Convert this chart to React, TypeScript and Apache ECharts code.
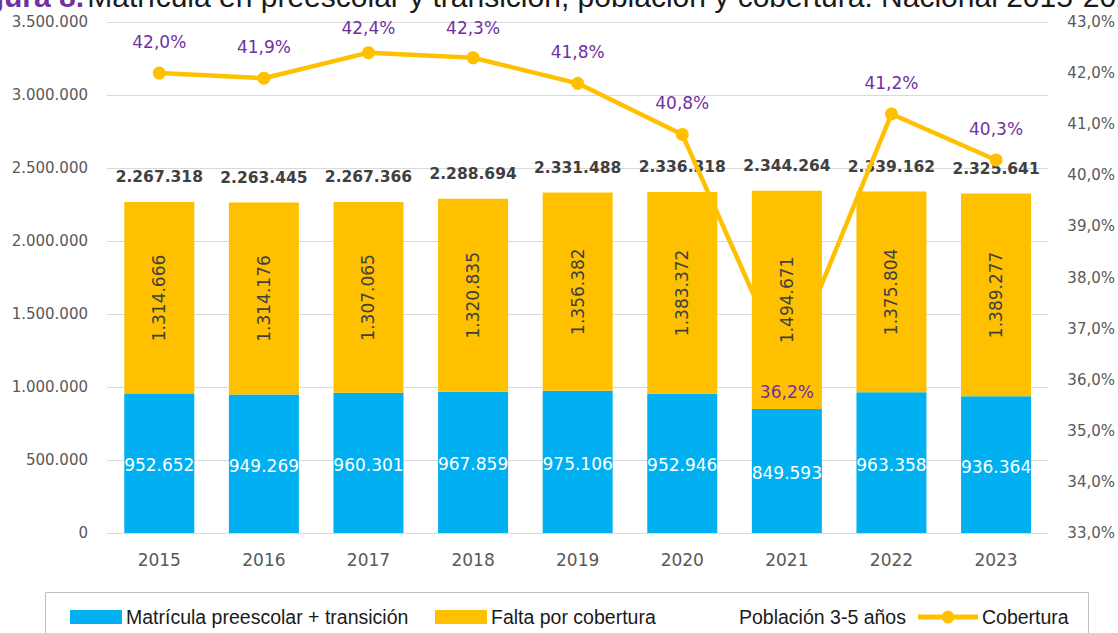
import React, { useEffect, useRef } from "react";
import * as echarts from "echarts";

const years = ["2015", "2016", "2017", "2018", "2019", "2020", "2021", "2022", "2023"];
const matricula = [952652, 949269, 960301, 967859, 975106, 952946, 849593, 963358, 936364];
const falta = [1314666, 1314176, 1307065, 1320835, 1356382, 1383372, 1494671, 1375804, 1389277];
const poblacion = [2267318, 2263445, 2267366, 2288694, 2331488, 2336318, 2344264, 2339162, 2325641];
const cobertura = [42.0, 41.9, 42.4, 42.3, 41.8, 40.8, 36.2, 41.2, 40.3];

const seriesNames = {
  matricula: "Matrícula preescolar + transición",
  falta: "Falta por cobertura",
  poblacion: "Población 3-5 años",
  cobertura: "Cobertura",
};

const titlePrefix = "Figura 8.";
const titleText = "Matrícula en preescolar y transición, población y cobertura. Nacional 2015-2023";

const fmtNum = (v: number) => String(Math.round(v)).replace(/\B(?=(\d{3})+(?!\d))/g, ".");
const fmtPct = (v: number) => v.toFixed(1).replace(".", ",") + "%";

const BLUE = "#00B0F0";
const YELLOW = "#FFC000";
const PURPLE = "#7030A0";
const AXIS_TXT = "#595959";
const GRID = "#D9D9D9";
const FONT = "DejaVu Sans";
const LEG_FONT = "Liberation Sans";
const LINE_ICON =
  "path://M0,4.5H60V9.5H0Z M23.5,7a6.5,6.5 0 1,1 13,0a6.5,6.5 0 1,1 -13,0Z";

export default function App() {
  const ref = useRef<HTMLDivElement>(null);

  useEffect(() => {
    if (!ref.current) return;
    const chart = echarts.init(ref.current, null, { renderer: "svg" });

    const legendCommon = {
      top: 607,
      padding: 0,
      itemHeight: 14,
      selectedMode: false,
      textStyle: { fontSize: 19.5, color: "#1a1a1a", fontFamily: LEG_FONT, padding: [0, 0, 0, -1] },
    };

    const coberturaData = cobertura.map((v, i) => {
      if (years[i] === "2017") return { value: v, label: { distance: 10 } };
      if (years[i] === "2018") return { value: v, label: { distance: 15 } };
      if (years[i] === "2021") return { value: v, label: { position: "bottom", distance: 8 } };
      return v;
    });

    chart.setOption({
      animation: false,
      backgroundColor: "#ffffff",
      grid: { left: 107, right: 66, top: 22, bottom: 100, containLabel: false },
      legend: [
        { ...legendCommon, left: 70, itemWidth: 52, data: [{ name: seriesNames.matricula, icon: "rect" }] },
        { ...legendCommon, left: 435, itemWidth: 52, data: [{ name: seriesNames.falta, icon: "rect" }] },
        {
          ...legendCommon,
          left: 734,
          itemWidth: 1,
          data: [{ name: seriesNames.poblacion, icon: "rect", itemStyle: { opacity: 0 } }],
        },
        {
          ...legendCommon,
          left: 918,
          itemWidth: 60,
          data: [{ name: seriesNames.cobertura, icon: LINE_ICON, itemStyle: { color: YELLOW } }],
        },
      ],
      xAxis: {
        type: "category",
        data: years,
        axisLine: { lineStyle: { color: GRID, width: 1 } },
        axisTick: { show: false },
        axisLabel: { color: AXIS_TXT, fontSize: 17, fontFamily: FONT, margin: 18 },
      },
      yAxis: [
        {
          type: "value",
          min: 0,
          max: 3500000,
          interval: 500000,
          axisLine: { show: false },
          axisTick: { show: false },
          splitLine: { lineStyle: { color: GRID, width: 1 } },
          axisLabel: {
            color: AXIS_TXT,
            fontSize: 15,
            fontFamily: FONT,
            margin: 19,
            formatter: (v: number) => fmtNum(v),
          },
        },
        {
          type: "value",
          min: 33,
          max: 43,
          interval: 1,
          axisLine: { show: false },
          axisTick: { show: false },
          splitLine: { show: false },
          axisLabel: {
            color: AXIS_TXT,
            fontSize: 15,
            fontFamily: FONT,
            margin: 19,
            formatter: (v: number) => fmtPct(v),
          },
        },
      ],
      series: [
        {
          name: seriesNames.matricula,
          type: "bar",
          stack: "total",
          barWidth: 70,
          data: matricula,
          itemStyle: { color: BLUE },
          label: {
            show: true,
            position: "inside",
            offset: [0, 2],
            color: "#ffffff",
            fontSize: 17,
            fontFamily: FONT,
            formatter: (p: any) => fmtNum(p.value),
          },
        },
        {
          name: seriesNames.falta,
          type: "bar",
          stack: "total",
          barWidth: 70,
          data: falta,
          itemStyle: { color: YELLOW },
          label: {
            show: true,
            position: "inside",
            rotate: 90,
            color: "#404040",
            fontSize: 17,
            fontFamily: FONT,
            formatter: (p: any) => fmtNum(p.value),
          },
        },
        {
          name: seriesNames.poblacion,
          type: "line",
          data: poblacion,
          symbol: "circle",
          symbolSize: 1,
          itemStyle: { color: "rgba(0,0,0,0)" },
          lineStyle: { opacity: 0 },
          z: 4,
          label: {
            show: true,
            position: "top",
            distance: 16,
            color: "#404040",
            fontSize: 15.5,
            fontWeight: "bold",
            fontFamily: FONT,
            formatter: (p: any) => fmtNum(p.value),
          },
        },
        {
          name: seriesNames.cobertura,
          type: "line",
          yAxisIndex: 1,
          data: coberturaData,
          symbol: "circle",
          symbolSize: 13,
          itemStyle: { color: YELLOW },
          lineStyle: { color: YELLOW, width: 4.5 },
          z: 5,
          label: {
            show: true,
            position: "top",
            distance: 16,
            color: PURPLE,
            fontSize: 17,
            fontFamily: FONT,
            formatter: (p: any) => fmtPct(p.value),
          },
        },
      ],
      graphic: [
        {
          type: "text",
          x: -41,
          y: -4,
          style: {
            text: `{a|${titlePrefix}} {b|${titleText}}`,
            verticalAlign: "middle",
            rich: {
              a: { fontSize: 30, fontWeight: "bold", fill: PURPLE, fontFamily: LEG_FONT },
              b: { fontSize: 30, fill: "#1a1a1a", fontFamily: LEG_FONT },
            },
          },
        },
        {
          type: "rect",
          shape: { x: 45.5, y: 592.5, width: 1043, height: 60 },
          style: { fill: "none", stroke: "#BFBFBF", lineWidth: 1 },
        },
      ],
    });

    return () => chart.dispose();
  }, []);

  return (
    <div
      ref={ref}
      style={{ position: "fixed", left: 0, top: 0, width: 1118, height: 633 }}
    />
  );
}
